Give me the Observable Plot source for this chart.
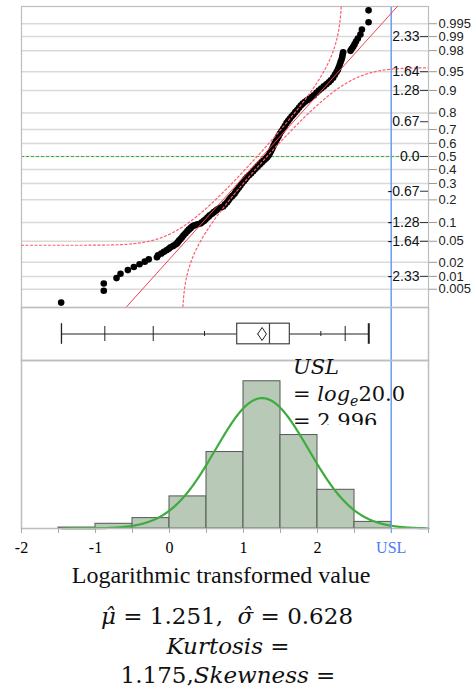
<!DOCTYPE html>
<html><head><meta charset="utf-8">
<script src="https://cdn.jsdelivr.net/npm/d3@7"></script>
<script src="https://cdn.jsdelivr.net/npm/@observablehq/plot@0.6"></script>
<style>
body{margin:0;background:#fff;}
#root{position:relative;width:476px;height:689px;overflow:hidden;background:#fff;}
#root > svg, #root > figure{position:absolute;left:0;margin:0;}
</style></head><body><div id="root"></div>
<script>
// ---------- data ----------
const mu = 1.251, sigma = 0.628, n = 435, USL = 2.996;
const kurtosis = "1.175";

// normal quantile plot: sorted values (x) and their normal scores (z)
const qx = [-1.464,-0.888,-0.888,-0.716,-0.662,-0.563,-0.482,-0.405,-0.334,-0.28,-0.17,-0.155,-0.112,-0.075,-0.04,-0.01,0.014,0.05,0.081,0.10,
0.115,0.13,0.149,0.17,0.19,0.216,0.24,0.261,0.284,0.306,0.33,0.351,0.38,0.419,0.44,0.465,0.486,0.51,0.53,0.545,
0.575,0.599,0.625,0.645,0.667,0.695,0.725,0.75,0.779,0.80,0.824,0.85,0.878,0.895,0.915,0.937,0.959,0.98,1.004,1.027,
1.05,1.078,1.104,1.133,1.162,1.19,1.22,1.247,1.274,1.30,1.32,1.34,1.356,1.372,1.388,1.403,1.419,1.437,1.455,1.473,
1.491,1.513,1.536,1.558,1.581,1.604,1.626,1.65,1.675,1.70,1.726,1.75,1.775,1.80,1.83,1.86,1.89,1.92,1.95,1.985,
2.018,2.05,2.085,2.12,2.153,2.18,2.212,2.235,2.257,2.275,2.288,2.30,2.311,2.325,2.334,2.34,2.347,2.446,2.462,2.482,
2.50,2.52,2.545,2.58,2.60,2.69,2.69];
const qz = [-2.835,-2.605,-2.463,-2.36,-2.274,-2.204,-2.144,-2.09,-2.04,-1.996,-1.956,-1.918,-1.883,-1.85,-1.82,-1.79,-1.762,-1.735,-1.71,-1.686,
-1.66,-1.63,-1.60,-1.567,-1.53,-1.49,-1.45,-1.42,-1.39,-1.36,-1.34,-1.33,-1.315,-1.30,-1.275,-1.25,-1.225,-1.19,-1.165,-1.14,
-1.11,-1.08,-1.055,-1.03,-1.01,-0.99,-0.97,-0.93,-0.887,-0.845,-0.80,-0.765,-0.725,-0.685,-0.645,-0.605,-0.563,-0.52,-0.48,-0.44,
-0.40,-0.36,-0.324,-0.28,-0.24,-0.197,-0.155,-0.115,-0.078,-0.045,-0.013,0.025,0.064,0.105,0.15,0.20,0.247,0.295,0.344,0.39,
0.441,0.49,0.538,0.59,0.647,0.69,0.732,0.775,0.816,0.86,0.90,0.945,0.99,1.025,1.06,1.09,1.12,1.155,1.185,1.235,
1.28,1.32,1.36,1.40,1.44,1.48,1.53,1.585,1.64,1.685,1.73,1.78,1.83,1.88,1.93,1.98,2.02,2.05,2.09,2.13,
2.175,2.23,2.29,2.366,2.463,2.605,2.835];

// probability axis (right) and normal-quantile labels (inside)
const probTicks = [0.005,0.01,0.02,0.05,0.1,0.2,0.3,0.4,0.5,0.6,0.7,0.8,0.9,0.95,0.98,0.99,0.995];
const probLabels = ["0.005","0.01","0.02","0.05","0.1","0.2","0.3","0.4","0.5","0.6","0.7","0.8","0.9","0.95","0.98","0.99","0.995"];
const zTicks = [-2.326,-1.645,-1.282,-0.674,0,0.674,1.282,1.645,2.326];
const zTickLabels = ["-2.33","-1.64","-1.28","-0.67","0.0","0.67","1.28","1.64","2.33"];

// quantile box plot
const boxMin = -1.46, boxMax = 2.693;
const q1 = 0.915, median = 1.351, q3 = 1.626;
const longTicks = [-0.874, -0.22, 2.374];   // 0.5%, 2.5%, 97.5%
const shortTicks = [0.473, 2.045];          // 10%, 90%

// histogram
const binStart = [-1.5,-1,-0.5,0,0.5,1,1.5,2,2.5];
const binCount = [1,5,11,34,81,156,99,41,7];
const binWidth = 0.5;

// axis
const xTicksMinor = [-2,-1.5,-1,-0.5,0,0.5,1,1.5,2,2.5,3,3.5];
const xTicksLabeled = [-2,-1,0,1,2];

// ---------- helpers (normal distribution) ----------
function erf(x){const s=Math.sign(x);x=Math.abs(x);const t=1/(1+0.3275911*x);
 const y=1-(((((1.061405429*t-1.453152027)*t)+1.421413741)*t-0.284496736)*t+0.254829592)*t*Math.exp(-x*x);return s*y;}
const Phi = z => 0.5*(1+erf(z/Math.SQRT2));
function PhiInv(p){
 const a=[-3.969683028665376e+01,2.209460984245205e+02,-2.759285104469687e+02,1.383577518672690e+02,-3.066479806614716e+01,2.506628277459239e+00];
 const b=[-5.447609879822406e+01,1.615858368580409e+02,-1.556989798598866e+02,6.680131188771972e+01,-1.328068155288572e+01];
 const c=[-7.784894002430293e-03,-3.223964580411365e-01,-2.400758277161838e+00,-2.549732539343734e+00,4.374664141464968e+00,2.938163982698783e+00];
 const d=[7.784695709041462e-03,3.224671290700398e-01,2.445134137142996e+00,3.754408661907416e+00];
 const pl=0.02425,ph=1-pl;let q,r;
 if(p<pl){q=Math.sqrt(-2*Math.log(p));return (((((c[0]*q+c[1])*q+c[2])*q+c[3])*q+c[4])*q+c[5])/((((d[0]*q+d[1])*q+d[2])*q+d[3])*q+1);}
 if(p<=ph){q=p-0.5;r=q*q;return (((((a[0]*r+a[1])*r+a[2])*r+a[3])*r+a[4])*r+a[5])*q/(((((b[0]*r+b[1])*r+b[2])*r+b[3])*r+b[4])*r+1);}
 q=Math.sqrt(-2*Math.log(1-p));return -(((((c[0]*q+c[1])*q+c[2])*q+c[3])*q+c[4])*q+c[5])/((((d[0]*q+d[1])*q+d[2])*q+d[3])*q+1);
}

// ---------- derived series ----------
const qData = qx.map((x,i)=>({x, z: qz[i]}));
const probZ = probTicks.map(p => PhiInv(p));
const probLabelMap = new Map(probZ.map((z,i)=>[z, probLabels[i]]));
const fitLine = [-3.2, 3.2].map(z => ({x: mu + sigma*z, z}));
const D = 0.886/Math.sqrt(n); // Lilliefors 95% bound
const xs = d3.range(-2, 3.5001, 0.002);
const bandA = [], bandB = [];
for (const x of xs){
  const P = Phi((x-mu)/sigma);
  if (P + D < 0.99999){ const z = PhiInv(P + D); if (z < 3.6) bandA.push({x, z}); }
  if (P - D > 0.00001){ const z = PhiInv(P - D); if (z > -3.6) bandB.push({x, z}); }
}
const bins = binStart.map((s,i)=>({x1: s, x2: s + binWidth, count: binCount[i]}));
const nTot = d3.sum(binCount);
const normalCurve = d3.range(boxMin, 3.5001, 0.01).map(x => ({x, y: nTot*binWidth*Math.exp(-0.5*((x-mu)/sigma)**2)/(sigma*Math.sqrt(2*Math.PI))}));
const diamondHalf = 1.96*sigma/Math.sqrt(n);
const diamond = [[mu-diamondHalf,0],[mu,6.5],[mu+diamondHalf,0],[mu,-6.5],[mu-diamondHalf,0]];

// ---------- styling ----------
const W = 476, ML = 21, MR = 48;
const frameColor = "#bdbdbd", uslColor = "#6a9cf2", red = "#f2404f", bandRed = "#ff5c6c";
const sans = "'Liberation Sans', Arial, sans-serif";
const serif = "'Liberation Serif', 'Times New Roman', serif";

const root = document.getElementById("root");

// Panel 1: normal quantile plot
const p1 = Plot.plot({
  width: W, height: 308, marginLeft: ML, marginRight: MR, marginTop: 6, marginBottom: 1,
  x: {domain: [-2, 3.5], axis: null},
  y: {domain: [-2.93, 2.91], axis: null},
  style: {background: "transparent", overflow: "visible"},
  marks: [
    Plot.ruleY(probZ, {stroke: "#d9d9d9", strokeWidth: 1.5}),
    Plot.ruleY([0], {stroke: "#2dbb2d", strokeDasharray: "3,2", strokeWidth: 1.2}),
    Plot.ruleX([USL], {stroke: uslColor, strokeWidth: 1.5}),
    Plot.frame({stroke: frameColor, strokeWidth: 1.2}),
    Plot.dot(qData, {x: "x", y: "z", r: 3.3, fill: "black", stroke: "none"}),
    Plot.line(fitLine, {x: "x", y: "z", stroke: red, strokeWidth: 1, clip: true}),
    Plot.line(bandA, {x: "x", y: "z", stroke: bandRed, strokeWidth: 1.2, strokeDasharray: "2,2.5", clip: true}),
    Plot.line(bandB, {x: "x", y: "z", stroke: bandRed, strokeWidth: 1.2, strokeDasharray: "2,2.5", clip: true}),
    Plot.tickY(zTicks, {y: d => d, insetLeft: 399, stroke: "#333", strokeWidth: 1}),
    Plot.text(zTicks, {y: d => d, frameAnchor: "right", dx: -9, textAnchor: "end", text: (d,i) => zTickLabels[i], fontSize: 14, fontFamily: sans, fill: "#111"}),
    Plot.axisY(probZ, {anchor: "right", tickSize: 8, tickPadding: 2, tickFormat: z => probLabelMap.get(z), fontSize: 13, fontFamily: sans, stroke: "#999", fill: "#222", label: null})
  ]
});
p1.style.top = "0px";
root.appendChild(p1);

// Panel 2: quantile box plot
const p2 = Plot.plot({
  width: W, height: 53, marginLeft: ML, marginRight: MR, marginTop: 0, marginBottom: 0,
  x: {domain: [-2, 3.5], axis: null},
  y: {domain: [-26.5, 26.5], axis: null},
  style: {background: "transparent", overflow: "visible"},
  marks: [
    Plot.ruleX([USL], {stroke: uslColor, strokeWidth: 1.5}),
    Plot.frame({stroke: frameColor, strokeWidth: 1.5}),
    Plot.ruleY([0], {x1: () => boxMin, x2: () => boxMax, stroke: "#222", strokeWidth: 1}),
    Plot.ruleX(longTicks, {x: d => d, y1: -7.5, y2: 7.5, stroke: "#222", strokeWidth: 1}),
    Plot.ruleX(shortTicks, {x: d => d, y1: -2.5, y2: 2.5, stroke: "#222", strokeWidth: 1}),
    Plot.ruleX([boxMin], {x: d => d, y1: -10.3, y2: 10.3, stroke: "#222", strokeWidth: 1.3}),
    Plot.ruleX([boxMax], {x: d => d, y1: -10.3, y2: 10.3, stroke: "#222", strokeWidth: 2}),
    Plot.rect([0], {x1: () => q1, x2: () => q3, y1: -10.3, y2: 10.3, fill: "white", stroke: "#444", strokeWidth: 1.2}),
    Plot.ruleX([median], {x: d => d, y1: -10.3, y2: 10.3, stroke: "#444", strokeWidth: 1.2}),
    Plot.line(diamond, {x: d => d[0], y: d => d[1], stroke: "#222", strokeWidth: 1})
  ]
});
p2.style.top = "307px";
root.appendChild(p2);

// Panel 3: histogram with normal fit
const p3 = Plot.plot({
  width: W, height: 200, marginLeft: ML, marginRight: MR, marginTop: 0, marginBottom: 32,
  x: {domain: [-2, 3.5], axis: null},
  y: {domain: [0, 178], axis: null},
  style: {background: "transparent", overflow: "visible"},
  marks: [
    Plot.rectY(bins, {x1: "x1", x2: "x2", y: "count", fill: "#b9c9b8", stroke: "#525852", strokeWidth: 1}),
    Plot.line(normalCurve, {x: "x", y: "y", stroke: "#3dab3d", strokeWidth: 2.2}),
    Plot.ruleX([USL], {stroke: uslColor, strokeWidth: 1.5}),
    Plot.frame({stroke: frameColor, strokeWidth: 1.5}),
    Plot.axisX(xTicksMinor, {tickSize: 5, stroke: "#aaa", tickFormat: () => "", label: null}),
    Plot.axisX(xTicksLabeled, {tickSize: 0, tickPadding: 13, fontSize: 16, fontFamily: serif, fill: "#000", tickFormat: d => String(d), label: null}),
    Plot.axisX([USL], {tickSize: 5, tickPadding: 8, fontSize: 16, fontFamily: serif, stroke: uslColor, fill: "#4a7cf3", tickFormat: () => "USL", label: null})
  ]
});
p3.style.top = "360px";
root.appendChild(p3);

// Text overlay: annotation, axis title, statistics
const math = "'DejaVu Serif', serif";
const ov = document.createElementNS("http://www.w3.org/2000/svg", "svg");
ov.setAttribute("width", 476); ov.setAttribute("height", 689);
ov.style.position = "absolute"; ov.style.top = "0px"; ov.style.left = "0px";
ov.innerHTML = `
<defs><clipPath id="uslclip"><rect x="280" y="340" width="170" height="85"/></clipPath></defs>
<g clip-path="url(#uslclip)" font-family="${math}" font-size="21" fill="#111">
  <text x="293" y="374" font-style="italic">USL</text>
  <text x="293" y="401" xml:space="preserve">= <tspan font-style="italic">log</tspan><tspan font-style="italic" font-size="14" dy="5">e</tspan><tspan dy="-5">20.0</tspan></text>
  <text x="293" y="428">= 2.996</text>
</g>
<text x="221" y="583" text-anchor="middle" font-family="${serif}" font-size="24" fill="#111">Logarithmic transformed value</text>
<g font-family="${math}" font-size="23" fill="#111" text-anchor="middle">
  <text x="227" y="624" xml:space="preserve"><tspan font-style="italic">μ̂</tspan> = 1.251,  <tspan font-style="italic">σ̂</tspan> = 0.628</text>
  <text x="228" y="654" xml:space="preserve"><tspan font-style="italic">Kurtosis</tspan> =</text>
  <text x="228" y="683" xml:space="preserve">${kurtosis},<tspan font-style="italic">Skewness</tspan> =</text>
</g>`;
root.appendChild(ov);
</script></body></html>
